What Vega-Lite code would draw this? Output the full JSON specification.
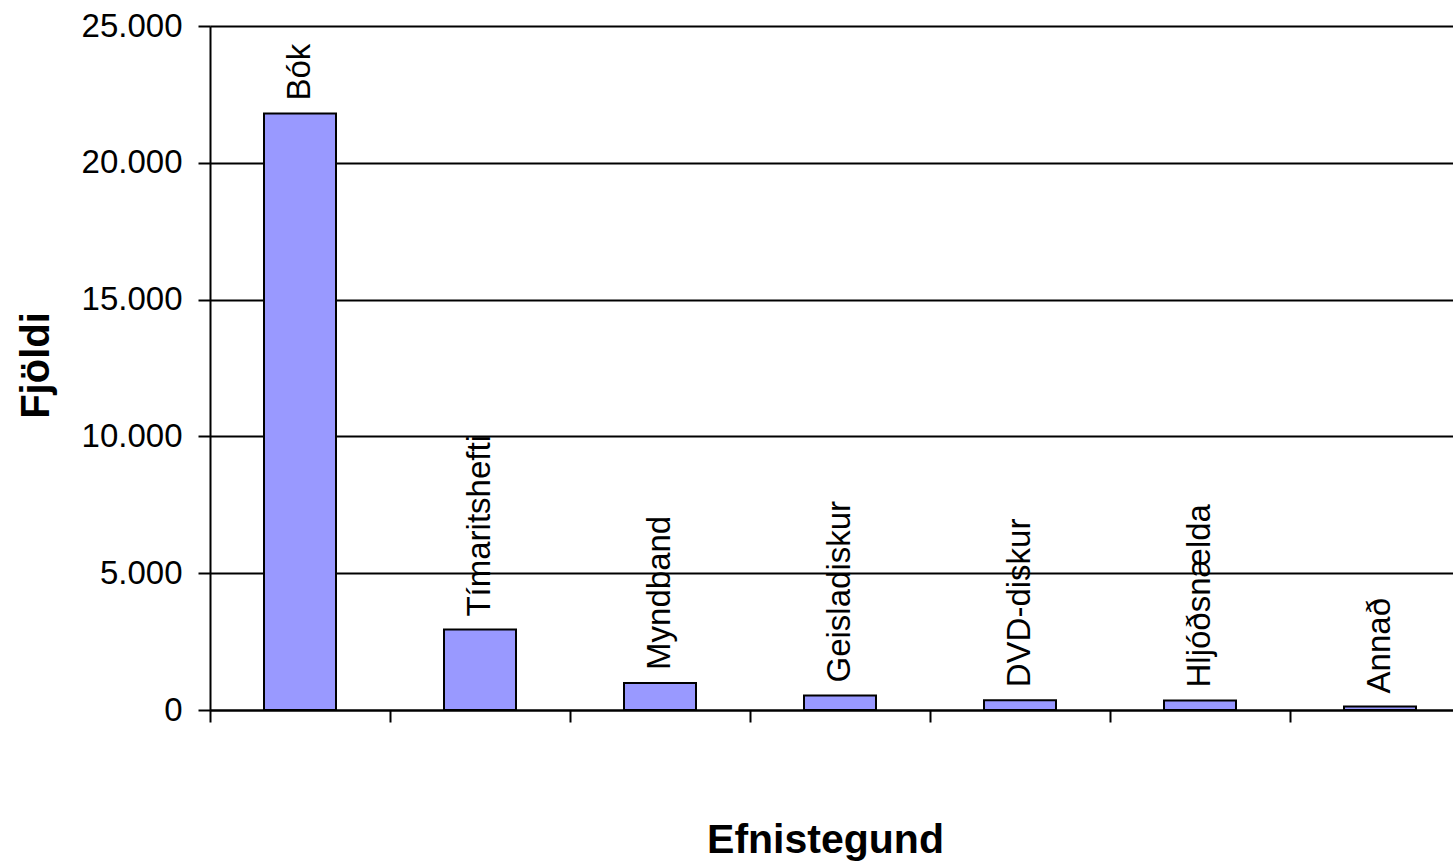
{
  "$schema": "https://vega.github.io/schema/vega-lite/v6.json",
  "autosize": {"type": "none"},
  "padding": {"left": 210, "top": 26, "right": 0, "bottom": 153},
  "width": 1243,
  "height": 684,
  "config": {"view": {"stroke": null}, "font": "Liberation Sans", "background": "white"},
  "data": {
    "values": [
      {"cat": "Bók", "value": 21800},
      {"cat": "Tímaritshefti", "value": 2940},
      {"cat": "Myndband", "value": 990},
      {"cat": "Geisladiskur", "value": 530},
      {"cat": "DVD-diskur", "value": 355},
      {"cat": "Hljóðsnælda", "value": 347},
      {"cat": "Annað", "value": 130}
    ]
  },
  "encoding": {
    "x": {
      "field": "cat",
      "type": "nominal",
      "sort": null,
      "scale": {"range": [0, 1260], "paddingInner": 0, "paddingOuter": 0},
      "axis": {
        "labels": false,
        "tickBand": "extent",
        "grid": false,
        "domainColor": "black",
        "domainWidth": 2,
        "tickColor": "black",
        "tickWidth": 2,
        "tickSize": 12,
        "title": "Efnistegund",
        "titleFont": "Liberation Sans",
        "titleFontSize": 41,
        "titleFontWeight": "bold",
        "titleColor": "black",
        "titleX": 615,
        "titleY": 142,
        "titleAlign": "center",
        "titleBaseline": "alphabetic"
      }
    },
    "y": {
      "field": "value",
      "type": "quantitative",
      "scale": {"domain": [0, 25000], "nice": false},
      "axis": {
        "values": [0, 5000, 10000, 15000, 20000, 25000],
        "labelExpr": "replace(format(datum.value, ','), ',', '.')",
        "labelFontSize": 33,
        "labelColor": "black",
        "labelPadding": 16,
        "grid": true,
        "gridColor": "black",
        "gridWidth": 2,
        "gridOpacity": 1,
        "domainColor": "black",
        "domainWidth": 2,
        "tickColor": "black",
        "tickWidth": 2,
        "tickSize": 12,
        "title": "Fjöldi",
        "titleFontSize": 40,
        "titleFontWeight": "bold",
        "titleColor": "black",
        "titleAngle": 270,
        "titleX": -162,
        "titleY": 339,
        "titleAlign": "center",
        "titleBaseline": "alphabetic"
      }
    }
  },
  "layer": [
    {
      "mark": {"type": "bar", "width": {"band": 0.4}, "fill": "#9999FF", "stroke": "black", "strokeWidth": 2}
    },
    {
      "mark": {"type": "text", "angle": 270, "align": "left", "baseline": "middle", "dx": 13, "fontSize": 33, "color": "black"},
      "encoding": {"text": {"field": "cat"}}
    }
  ]
}
